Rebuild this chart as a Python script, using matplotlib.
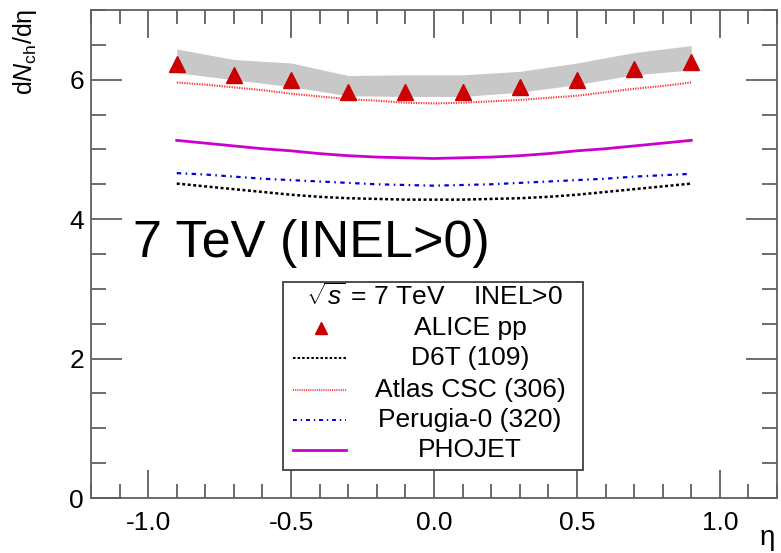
import numpy as np
import matplotlib
matplotlib.use("Agg")
import matplotlib.pyplot as plt
from matplotlib.lines import Line2D
from matplotlib.patches import Rectangle
from matplotlib.ticker import MultipleLocator

plt.rcParams['font.family'] = ['Liberation Sans', 'DejaVu Sans']
plt.rcParams['mathtext.fontset'] = 'custom'
plt.rcParams['mathtext.rm'] = 'Liberation Sans'
plt.rcParams['mathtext.it'] = 'Liberation Sans:italic'
plt.rcParams['mathtext.sf'] = 'Liberation Sans'

# ---- data ----
eta_pts = [-0.9, -0.7, -0.5, -0.3, -0.1, 0.1, 0.3, 0.5, 0.7, 0.9]
alice = [6.22, 6.07, 5.99, 5.83, 5.83, 5.83, 5.89, 6.00, 6.15, 6.26]
band_low = [6.10, 6.00, 5.90, 5.77, 5.76, 5.76, 5.82, 5.93, 6.07, 6.14]
band_high = [6.44, 6.29, 6.24, 6.06, 6.07, 6.07, 6.12, 6.24, 6.39, 6.49]

eta_mc = [-0.9, -0.8, -0.7, -0.6, -0.5, -0.4, -0.3, -0.2, -0.1, 0.0,
          0.1, 0.2, 0.3, 0.4, 0.5, 0.6, 0.7, 0.8, 0.9]
d6t = [4.51, 4.47, 4.43, 4.39, 4.35, 4.32, 4.30, 4.29, 4.28, 4.28,
       4.28, 4.29, 4.30, 4.32, 4.35, 4.39, 4.43, 4.47, 4.51]
atlas = [5.96, 5.93, 5.89, 5.85, 5.80, 5.76, 5.72, 5.70, 5.67, 5.66,
         5.67, 5.69, 5.71, 5.74, 5.77, 5.82, 5.87, 5.91, 5.96]
perugia = [4.66, 4.64, 4.61, 4.58, 4.56, 4.54, 4.52, 4.50, 4.49, 4.48,
           4.49, 4.50, 4.52, 4.54, 4.56, 4.58, 4.61, 4.63, 4.65]
phojet = [5.13, 5.09, 5.05, 5.01, 4.98, 4.94, 4.91, 4.89, 4.88, 4.87,
          4.88, 4.89, 4.91, 4.94, 4.98, 5.01, 5.05, 5.09, 5.13]

labels = ['ALICE pp', 'D6T (109)', 'Atlas CSC (306)', 'Perugia-0 (320)', 'PHOJET']
header = r'$\sqrt{s}$ = 7 TeV    INEL>0'
big_text = '7 TeV (INEL>0)'

# ---- figure ----
W, H = 781, 553
fig = plt.figure(figsize=(W / 100, H / 100), dpi=100)
ax = fig.add_axes([91 / W, 1 - 498 / H, 686 / W, 488 / H])

axc = '#606060'
c_red = '#cc0000'

ax.fill_between(eta_pts, band_low, band_high, color='#c8c8c8', lw=0, zorder=1)
ax.plot(eta_mc, atlas, color='#ff3030', lw=1.5, ls=(0, (0.6, 0.6)), zorder=2)
ax.plot(eta_mc, phojet, color='#cc00cc', lw=2.0, ls='-', zorder=2)
ax.plot(eta_mc, perugia, color='#0000dd', lw=1.6, ls=(0, (2, 2, 0.7, 2)), zorder=2)
ax.plot(eta_mc, d6t, color='black', lw=1.8, ls=(0, (1.2, 1.0)), zorder=2)
ax.plot(eta_pts, alice, ls='none', marker='^', ms=11, color=c_red, mec=c_red, zorder=3)

ax.set_xlim(-1.2, 1.2)
ax.set_ylim(0, 7)
ax.xaxis.set_major_locator(MultipleLocator(0.5))
ax.xaxis.set_minor_locator(MultipleLocator(0.1))
ax.yaxis.set_major_locator(MultipleLocator(2))
ax.yaxis.set_minor_locator(MultipleLocator(0.5))
ax.set_xticks([-1.0, -0.5, 0.0, 0.5, 1.0])
ax.set_xticklabels(['-1.0', '-0.5', '0.0', '0.5', '1.0'])
ax.set_yticks([0, 2, 4, 6])
ax.set_yticklabels(['0', '2', '4', '6'])
ax.tick_params(which='both', direction='in', top=True, right=True, color=axc,
               labelsize=19, width=1.3)
ax.tick_params(axis='x', which='major', length=20, pad=9)
ax.tick_params(axis='x', which='minor', length=10)
ax.tick_params(axis='y', which='major', length=22, pad=5)
ax.tick_params(axis='y', which='minor', length=11)
for s in ax.spines.values():
    s.set_color(axc)
    s.set_linewidth(1.3)

fig.text(25 / W, 1 - 9 / H, r'd$N_{\rm ch}$/dη', rotation=90, ha='center',
         va='top', fontsize=18)
fig.text(767 / W, 1 - 538 / H, 'η', ha='center', va='center', fontsize=20)

ax.text(0.061, 0.5225, big_text, transform=ax.transAxes, fontsize=37.5,
        ha='left', va='center')

# ---- legend (ROOT style) ----
T = ax.transAxes
ax.add_patch(Rectangle((0.280, 0.0574), 0.437, 0.3852, transform=T,
                       facecolor='white', edgecolor='#404040', lw=1.3, zorder=5))
rows = [0.348, 0.287, 0.221, 0.160, 0.098]
ax.text(0.5, 0.412, header, transform=T, ha='center', va='center', fontsize=19, zorder=6)
ax.add_line(Line2D([0.335], [rows[0]], transform=T, ls='none', marker='^', ms=9,
                   color=c_red, mec=c_red, zorder=6))
styles = [dict(color='black', lw=1.5, ls=(0, (1.2, 1.0))),
          dict(color='#ff3030', lw=1.3, ls=(0, (0.6, 0.6))),
          dict(color='#0000dd', lw=1.4, ls=(0, (2, 2, 0.7, 2))),
          dict(color='#cc00cc', lw=2.0, ls='-')]
for y, st in zip(rows[1:], styles):
    ax.add_line(Line2D([0.2945, 0.3717], [y, y], transform=T, zorder=6, **st))
for y, lab in zip(rows, labels):
    ax.text(0.5525, y, lab, transform=T, ha='center', va='center', fontsize=19, zorder=6)

fig.savefig('out.png', dpi=100, facecolor='white')
